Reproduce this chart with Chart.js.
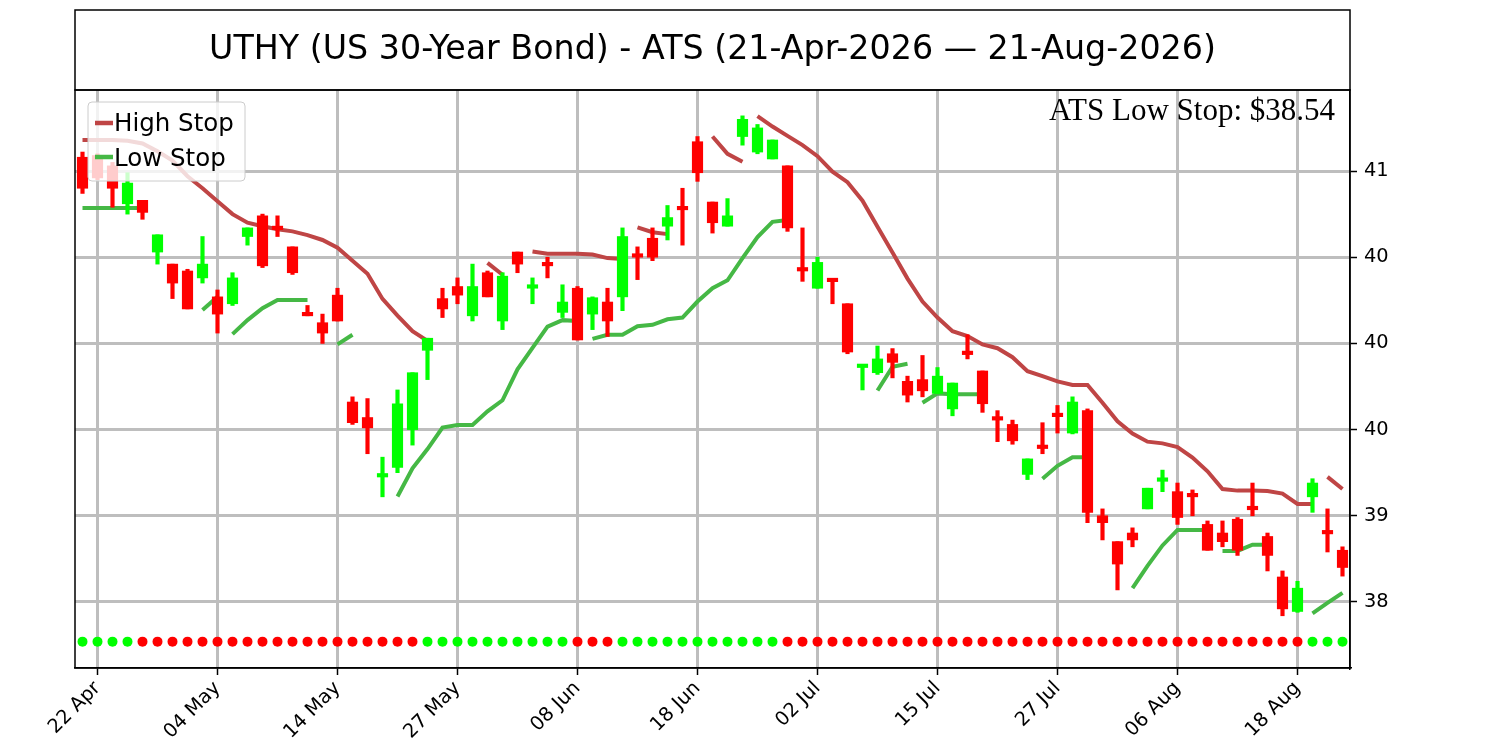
<!DOCTYPE html>
<html>
<head>
<meta charset="utf-8">
<script src="https://cdn.jsdelivr.net/npm/chart.js@4.4.1/dist/chart.umd.min.js"></script>
<style>
  html, body { margin: 0; padding: 0; background: #fff; }
</style>
</head>
<body>
<canvas id="atsChart" width="1500" height="750"></canvas>
<script>
// daily candles, 21 Apr 2026 .. 21 Aug 2026 (trading-day index 0..84)
const opens = [
  41.08, 41.09, 41.03, 40.81, 40.83, 40.53, 40.46, 40.42, 40.38, 40.27,
  40.23, 40.62, 40.74, 40.67, 40.56, 40.17, 40.12, 40.28, 39.66, 39.57,
  39.225, 39.28, 39.50, 39.96, 40.26, 40.33, 40.16, 40.41, 40.13, 40.53,
  40.32, 40.455, 40.18, 40.32, 40.17, 40.24, 40.27, 40.52, 40.61, 40.68,
  40.78, 41.17, 40.82, 40.68, 41.20, 41.11, 41.07, 41.03, 40.425, 40.32,
  40.362, 40.23, 39.86, 39.83, 39.94, 39.78, 39.79, 39.71, 39.62, 39.94,
  39.84, 39.56, 39.53, 39.24, 39.395, 39.58, 39.48, 39.61, 39.00, 38.85,
  38.90, 39.04, 39.20, 39.14, 39.115, 38.95, 38.90, 38.98, 39.04, 38.88,
  38.645, 38.445, 39.11, 38.90, 38.80
];
const highs = [
  41.11, 41.10, 41.05, 40.99, 40.83, 40.63, 40.46, 40.43, 40.62, 40.31,
  40.41, 40.67, 40.75, 40.74, 40.56, 40.22, 40.17, 40.32, 39.69, 39.68,
  39.34, 39.73, 39.83, 40.03, 40.32, 40.38, 40.46, 40.42, 40.41, 40.53,
  40.38, 40.50, 40.34, 40.33, 40.27, 40.32, 40.67, 40.56, 40.67, 40.80,
  40.90, 41.20, 40.82, 40.84, 41.32, 41.27, 41.18, 41.03, 40.67, 40.50,
  40.362, 40.23, 39.87, 39.985, 39.97, 39.81, 39.93, 39.86, 39.77, 40.05,
  39.84, 39.61, 39.555, 39.33, 39.54, 39.64, 39.69, 39.62, 39.04, 38.85,
  38.93, 39.16, 39.265, 39.19, 39.15, 38.97, 38.97, 38.99, 39.19, 38.90,
  38.68, 38.62, 39.215, 39.04, 38.82
];
const lows = [
  40.87, 40.95, 40.79, 40.75, 40.72, 40.46, 40.26, 40.20, 40.35, 40.06,
  40.22, 40.57, 40.44, 40.62, 40.40, 40.16, 40.00, 40.13, 39.53, 39.36,
  39.11, 39.25, 39.41, 39.79, 40.15, 40.23, 40.13, 40.27, 40.08, 40.41,
  40.23, 40.38, 40.15, 40.02, 40.08, 40.04, 40.19, 40.37, 40.48, 40.60,
  40.57, 40.94, 40.64, 40.68, 41.15, 41.10, 41.07, 40.65, 40.36, 40.32,
  40.23, 39.94, 39.73, 39.82, 39.80, 39.66, 39.69, 39.71, 39.58, 39.91,
  39.60, 39.43, 39.415, 39.21, 39.36, 39.48, 39.475, 38.96, 38.86, 38.57,
  38.82, 39.04, 39.14, 38.95, 39.00, 38.80, 38.82, 38.77, 39.00, 38.68,
  38.42, 38.44, 39.02, 38.79, 38.65
];
const closes = [
  40.90, 40.96, 40.90, 40.93, 40.76, 40.63, 40.35, 40.20, 40.46, 40.17,
  40.38, 40.67, 40.45, 40.66, 40.41, 40.16, 40.06, 40.13, 39.54, 39.51,
  39.23, 39.65, 39.83, 40.03, 40.20, 40.28, 40.33, 40.27, 40.39, 40.46,
  40.325, 40.45, 40.24, 40.02, 40.265, 40.13, 40.62, 40.50, 40.50, 40.73,
  40.775, 40.99, 40.70, 40.74, 41.30, 41.25, 41.18, 40.67, 40.42, 40.47,
  40.358, 39.95, 39.864, 39.91, 39.89, 39.70, 39.725, 39.81, 39.77, 39.935,
  39.65, 39.555, 39.435, 39.33, 39.39, 39.575, 39.66, 39.02, 38.96, 38.72,
  38.86, 39.16, 39.205, 38.99, 39.11, 38.80, 38.85, 38.80, 39.035, 38.77,
  38.46, 38.58, 39.19, 38.895, 38.70
];

// trailing stops (null = not active); *Breaks = index where a new segment starts right after another
const highStop = [
  41.18, 41.18, 41.18, 41.175, 41.16, 41.115, 41.06, 40.97, 40.90, 40.825,
  40.75, 40.70, 40.68, 40.662, 40.65, 40.628, 40.60, 40.555, 40.48, 40.404,
  40.258, 40.161, 40.071, 40.015, null, null, null, 40.467, 40.398, null,
  40.533, 40.52, 40.52, 40.52, 40.516, 40.495, 40.49, 40.673, 40.645, 40.634,
  null, null, 41.20, 41.10, 41.054, 41.318, 41.258, 41.204, 41.15, 41.086,
  40.996, 40.935, 40.828, 40.677, 40.527, 40.376, 40.243, 40.15, 40.071, 40.043,
  39.994, 39.972, 39.92, 39.839, 39.81, 39.78, 39.759, 39.759, 39.656, 39.548,
  39.477, 39.43, 39.42, 39.398, 39.338, 39.258, 39.155, 39.146, 39.146, 39.144,
  39.129, 39.069, 39.069, 39.226, 39.155
];
const highBreaks = [37, 45, 83];

const lowStop = [
  40.785, 40.785, 40.785, 40.785, 40.785, null, null, null, 40.194, 40.27,
  40.054, 40.135, 40.204, 40.252, 40.252, 40.252, null, 39.994, 40.05, null,
  null, 39.112, 39.275, 39.387, 39.512, 39.527, 39.527, 39.606, 39.67, 39.85,
  39.974, 40.097, 40.135, 40.13, 40.026, 40.05, 40.05, 40.10, 40.108, 40.14,
  40.15, 40.243, 40.32, 40.366, 40.495, 40.617, 40.705, 40.716, null, null,
  null, null, null, 39.727, 39.865, 39.882, 39.656, 39.71, 39.705, 39.705,
  39.705, null, null, null, 39.215, 39.29, 39.34, 39.34, null, null,
  38.58, 38.71, 38.828, 38.918, 38.918, 38.918, 38.796, 38.796, 38.832, 38.832,
  null, null, 38.434, 38.495, 38.553
];
const lowBreaks = [10, 34, 56, 76];

// trend dots along the bottom: 1 = green, 0 = red
const signal = [
  1, 1, 1, 1, 0, 0, 0, 0, 0, 0,
  0, 0, 0, 0, 0, 0, 0, 0, 0, 0,
  0, 0, 0, 1, 1, 1, 1, 1, 1, 1,
  1, 1, 1, 0, 0, 0, 1, 1, 1, 1,
  1, 1, 1, 1, 1, 1, 1, 0, 0, 0,
  0, 0, 0, 0, 0, 0, 0, 0, 0, 0,
  0, 0, 0, 0, 0, 0, 0, 0, 0, 0,
  0, 0, 0, 0, 0, 0, 0, 0, 0, 0,
  0, 0, 1, 1, 1
];
const dotLevel = 38.27;

const tickPos    = [1, 9, 17, 25, 33, 41, 49, 57, 65, 73, 81];
const tickLabels = ['22 Apr', '04 May', '14 May', '27 May', '08 Jun', '18 Jun',
                    '02 Jul', '15 Jul', '27 Jul', '06 Aug', '18 Aug'];
const yTicks      = [38.5, 39, 39.5, 40, 40.5, 41];
const yTickLabels = ['38', '39', '40', '40', '40', '41'];

const lastLowStop = '$38.54';

const UP = '#00ff00';
const DOWN = '#ff0000';
const HI_COLOR = '#bf4545';
const LO_COLOR = '#45b845';
const GRID = '#bebebe';

const idx = opens.map((_, i) => i);
const candleColors = idx.map(i => closes[i] >= opens[i] ? UP : DOWN);

const overlay = {
  id: 'overlay',
  afterDraw(chart) {
    const { ctx, chartArea: a } = chart;
    ctx.save();

    // legend box (semi-transparent, over the candles)
    ctx.beginPath();
    ctx.roundRect(88, 102, 157, 79, 4);
    ctx.fillStyle = 'rgba(255,255,255,0.8)';
    ctx.fill();
    ctx.strokeStyle = '#cccccc';
    ctx.lineWidth = 1;
    ctx.stroke();

    ctx.lineWidth = 4.5;
    ctx.strokeStyle = HI_COLOR;
    ctx.beginPath(); ctx.moveTo(95, 123); ctx.lineTo(113, 123); ctx.stroke();
    ctx.strokeStyle = LO_COLOR;
    ctx.beginPath(); ctx.moveTo(95, 157); ctx.lineTo(113, 157); ctx.stroke();

    ctx.fillStyle = '#000';
    ctx.font = '24.5px "DejaVu Sans"';
    ctx.textAlign = 'left';
    ctx.textBaseline = 'alphabetic';
    ctx.fillText('High Stop', 114, 131);
    ctx.fillText('Low Stop', 114, 166);

    // frames
    ctx.strokeStyle = '#000';
    ctx.lineWidth = 1.5;
    ctx.strokeRect(a.left, a.top, a.right - a.left, a.bottom - a.top);
    ctx.strokeRect(a.left, 10, a.right - a.left, a.top - 10);

    // title
    ctx.font = '33.3px "DejaVu Sans"';
    ctx.textAlign = 'center';
    ctx.textBaseline = 'middle';
    ctx.fillText('UTHY (US 30-Year Bond) - ATS (21-Apr-2026 \u2014 21-Aug-2026)', (a.left + a.right) / 2, 50);

    // last stop annotation
    ctx.font = '31px "Liberation Serif"';
    ctx.textAlign = 'right';
    ctx.textBaseline = 'alphabetic';
    ctx.fillText('ATS Low Stop: ' + lastLowStop, a.right - 15, 120);

    ctx.restore();
  }
};

Chart.defaults.font.family = '"DejaVu Sans", sans-serif';

new Chart(document.getElementById('atsChart'), {
  type: 'bar',
  data: {
    datasets: [
      {
        label: 'Body',
        data: idx.map(i => ({ x: i, y: [opens[i], closes[i]] })),
        backgroundColor: candleColors,
        barThickness: 10.5,
        minBarLength: 3.5,
        borderWidth: 0,
        grouped: false,
        order: 0,
      },
      {
        label: 'Wick',
        data: idx.map(i => ({ x: i, y: [lows[i], highs[i]] })),
        backgroundColor: candleColors,
        barThickness: 3.5,
        borderWidth: 0,
        grouped: false,
        order: 1,
      },
      {
        type: 'line',
        label: 'High Stop',
        data: highStop.map((v, i) => ({ x: i, y: v })),
        borderColor: HI_COLOR,
        borderWidth: 4,
        pointRadius: 0,
        tension: 0,
        spanGaps: false,
        segment: {
          borderColor: c => highBreaks.includes(c.p1DataIndex) ? 'rgba(0,0,0,0)' : HI_COLOR,
        },
        order: 2,
      },
      {
        type: 'line',
        label: 'Low Stop',
        data: lowStop.map((v, i) => ({ x: i, y: v })),
        borderColor: LO_COLOR,
        borderWidth: 4,
        pointRadius: 0,
        tension: 0,
        spanGaps: false,
        segment: {
          borderColor: c => lowBreaks.includes(c.p1DataIndex) ? 'rgba(0,0,0,0)' : LO_COLOR,
        },
        order: 3,
      },
      {
        type: 'scatter',
        label: 'Trend',
        data: signal.map((s, i) => ({ x: i, y: dotLevel })),
        pointBackgroundColor: signal.map(s => s ? UP : DOWN),
        pointBorderWidth: 0,
        pointRadius: 5,
        order: 4,
      },
    ],
  },
  options: {
    responsive: false,
    devicePixelRatio: 1,
    animation: false,
    layout: { padding: { left: 75, top: 90, right: 0, bottom: 0 } },
    plugins: {
      legend: { display: false },
      tooltip: { enabled: false },
    },
    scales: {
      x: {
        type: 'linear',
        offset: false,
        min: -0.5,
        max: 84.5,
        afterBuildTicks: s => { s.ticks = tickPos.map(v => ({ value: v })); },
        afterFit: s => { s.height = 82; s.paddingLeft = 0; s.paddingRight = 0; },
        ticks: {
          autoSkip: false,
          maxRotation: 45,
          minRotation: 45,
          padding: 2,
          color: '#000',
          font: { size: 19.4 },
          callback: v => tickLabels[tickPos.indexOf(v)],
        },
        grid: { offset: false, color: GRID, lineWidth: 3, tickLength: 7, tickColor: '#000', tickWidth: 1.5 },
        border: { display: true, color: '#000', width: 1.5 },
      },
      y: {
        type: 'linear',
        position: 'right',
        min: 38.117,
        max: 41.47,
        afterBuildTicks: s => { s.ticks = yTicks.map(v => ({ value: v })); },
        afterFit: s => { s.width = 150; },
        ticks: {
          padding: 7,
          color: '#000',
          font: { size: 19.4 },
          callback: v => yTickLabels[yTicks.indexOf(v)],
        },
        grid: { color: GRID, lineWidth: 3, tickLength: 7, tickColor: '#000', tickWidth: 1.5 },
        border: { display: true, color: '#000', width: 1.5 },
      },
    },
  },
  plugins: [overlay],
});
</script>
</body>
</html>
